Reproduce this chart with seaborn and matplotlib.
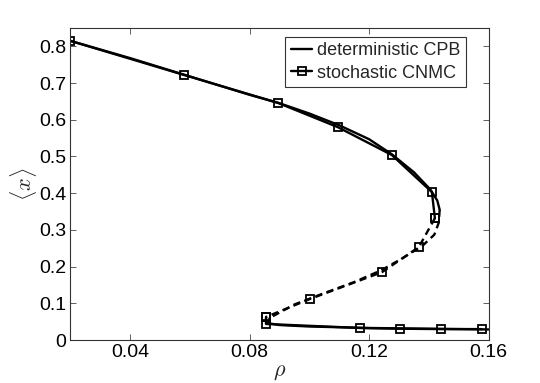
import numpy as np
import pandas as pd
import matplotlib
matplotlib.use("Agg")
import matplotlib.pyplot as plt
import seaborn as sns

# deterministic CPB (upper stable, unstable middle, lower stable)
det_up_x = [0.02, 0.04, 0.06, 0.08, 0.09, 0.10, 0.11, 0.12, 0.1276, 0.135, 0.1405, 0.1428, 0.1436]
det_up_y = [0.815, 0.768, 0.718, 0.668, 0.645, 0.617, 0.585, 0.547, 0.506, 0.457, 0.410, 0.380, 0.355]
det_mid_x = [0.1436, 0.1433, 0.1418, 0.1380, 0.131, 0.124, 0.115, 0.105, 0.095, 0.0862]
det_mid_y = [0.355, 0.320, 0.287, 0.258, 0.222, 0.190, 0.158, 0.128, 0.097, 0.058]
det_lo_x = [0.0858, 0.087, 0.09, 0.10, 0.11, 0.12, 0.14, 0.16]
det_lo_y = [0.050, 0.045, 0.041, 0.037, 0.035, 0.033, 0.031, 0.029]

# stochastic CNMC
sto_up_x = [0.02, 0.0581, 0.0895, 0.1095, 0.1276, 0.141, 0.142]
sto_up_y = [0.815, 0.722, 0.646, 0.580, 0.504, 0.403, 0.332]
sto_mid_x = [0.142, 0.1366, 0.1243, 0.1002, 0.0855]
sto_mid_y = [0.332, 0.253, 0.185, 0.112, 0.063]
sto_lo_x = [0.0855, 0.0855, 0.117, 0.1303, 0.144, 0.1577]
sto_lo_y = [0.063, 0.044, 0.033, 0.031, 0.030, 0.030]

sns.set_style("ticks")
plt.rcParams['font.family'] = ['Liberation Sans', 'DejaVu Sans']
plt.rcParams['mathtext.fontset'] = 'cm'

fig, ax = plt.subplots(figsize=(5.4, 3.83), dpi=100)
fig.subplots_adjust(left=0.13, right=0.905, top=0.927, bottom=0.112)

lw = 1.7
mk = dict(marker='s', markersize=6, markerfacecolor='none', markeredgecolor='black', markeredgewidth=1.3)
dash = (0, (3, 2))

sns.lineplot(x=det_up_x, y=det_up_y, sort=False, estimator=None, color='black', lw=lw, ax=ax,
             label='deterministic CPB')
sns.lineplot(x=det_mid_x, y=det_mid_y, sort=False, estimator=None, color='black', lw=lw, ax=ax,
             linestyle=dash)
sns.lineplot(x=det_lo_x, y=det_lo_y, sort=False, estimator=None, color='black', lw=lw, ax=ax)

sns.lineplot(x=sto_up_x, y=sto_up_y, sort=False, estimator=None, color='black', lw=lw, ax=ax,
             label='stochastic CNMC', **mk)
sns.lineplot(x=sto_mid_x, y=sto_mid_y, sort=False, estimator=None, color='black', lw=lw, ax=ax,
             linestyle=dash, **mk)
sns.lineplot(x=sto_lo_x, y=sto_lo_y, sort=False, estimator=None, color='black', lw=lw, ax=ax, **mk)

ax.set_xlim(0.02, 0.16)
ax.set_ylim(0, 0.85)
ax.set_xticks([0.04, 0.08, 0.12, 0.16])
ax.set_xticklabels(['0.04', '0.08', '0.12', '0.16'])
ax.set_yticks(np.arange(0, 0.81, 0.1))
ax.set_yticklabels(['0', '0.1', '0.2', '0.3', '0.4', '0.5', '0.6', '0.7', '0.8'])
ax.tick_params(direction='in', top=True, right=True, labelsize=14, length=4, width=0.6,
               colors='#444444', labelcolor='black', pad=3)
for s in ax.spines.values():
    s.set_linewidth(0.8)
    s.set_color('#333333')

ax.set_xlabel(r'$\rho$', fontsize=16, labelpad=0)
ax.set_ylabel(r'$\langle x\rangle$', fontsize=16, labelpad=0)

leg = ax.legend(loc='upper right', bbox_to_anchor=(0.945, 0.972), fontsize=13, frameon=True,
                fancybox=False, borderpad=0.3, handlelength=1.2, handletextpad=0.25,
                labelspacing=0.3, borderaxespad=0)
leg.get_frame().set_edgecolor('black')
leg.get_frame().set_linewidth(0.8)

fig.savefig('out.png', dpi=100)
